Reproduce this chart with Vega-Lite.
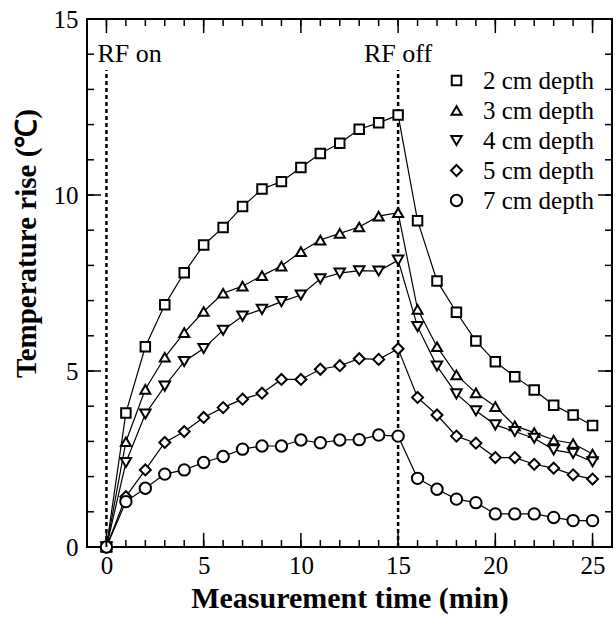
{
  "$schema": "https://vega.github.io/schema/vega-lite/v6.json",
  "width": 525,
  "height": 528,
  "autosize": "none",
  "padding": {"left": 87, "top": 19, "right": 4, "bottom": 72},
  "background": "white",
  "config": {
    "font": "Liberation Serif",
    "view": {"stroke": "black", "strokeWidth": 2},
    "axis": {
      "domain": false,
      "ticks": false,
      "grid": false,
      "labelFont": "Liberation Serif",
      "labelFontSize": 25,
      "labelColor": "black",
      "titleFont": "Liberation Serif",
      "titleColor": "black",
      "titleFontWeight": "bold",
      "titleFontSize": 29
    }
  },
  "datasets": {
    "temps": [
      {"t": 0, "depth": "2 cm depth", "temp": 0}, {"t": 1, "depth": "2 cm depth", "temp": 3.81}, {"t": 2, "depth": "2 cm depth", "temp": 5.69}, {"t": 3, "depth": "2 cm depth", "temp": 6.88}, {"t": 4, "depth": "2 cm depth", "temp": 7.79}, {"t": 5, "depth": "2 cm depth", "temp": 8.58}, {"t": 6, "depth": "2 cm depth", "temp": 9.08}, {"t": 7, "depth": "2 cm depth", "temp": 9.67}, {"t": 8, "depth": "2 cm depth", "temp": 10.17}, {"t": 9, "depth": "2 cm depth", "temp": 10.38}, {"t": 10, "depth": "2 cm depth", "temp": 10.78}, {"t": 11, "depth": "2 cm depth", "temp": 11.18}, {"t": 12, "depth": "2 cm depth", "temp": 11.47}, {"t": 13, "depth": "2 cm depth", "temp": 11.87}, {"t": 14, "depth": "2 cm depth", "temp": 12.05}, {"t": 15, "depth": "2 cm depth", "temp": 12.27}, {"t": 16, "depth": "2 cm depth", "temp": 9.27}, {"t": 17, "depth": "2 cm depth", "temp": 7.56}, {"t": 18, "depth": "2 cm depth", "temp": 6.67}, {"t": 19, "depth": "2 cm depth", "temp": 5.85}, {"t": 20, "depth": "2 cm depth", "temp": 5.26}, {"t": 21, "depth": "2 cm depth", "temp": 4.84}, {"t": 22, "depth": "2 cm depth", "temp": 4.46}, {"t": 23, "depth": "2 cm depth", "temp": 4.03}, {"t": 24, "depth": "2 cm depth", "temp": 3.75}, {"t": 25, "depth": "2 cm depth", "temp": 3.45},
      {"t": 0, "depth": "3 cm depth", "temp": 0}, {"t": 1, "depth": "3 cm depth", "temp": 2.99}, {"t": 2, "depth": "3 cm depth", "temp": 4.48}, {"t": 3, "depth": "3 cm depth", "temp": 5.39}, {"t": 4, "depth": "3 cm depth", "temp": 6.09}, {"t": 5, "depth": "3 cm depth", "temp": 6.69}, {"t": 6, "depth": "3 cm depth", "temp": 7.21}, {"t": 7, "depth": "3 cm depth", "temp": 7.41}, {"t": 8, "depth": "3 cm depth", "temp": 7.71}, {"t": 9, "depth": "3 cm depth", "temp": 7.98}, {"t": 10, "depth": "3 cm depth", "temp": 8.39}, {"t": 11, "depth": "3 cm depth", "temp": 8.72}, {"t": 12, "depth": "3 cm depth", "temp": 8.91}, {"t": 13, "depth": "3 cm depth", "temp": 9.09}, {"t": 14, "depth": "3 cm depth", "temp": 9.40}, {"t": 15, "depth": "3 cm depth", "temp": 9.50}, {"t": 16, "depth": "3 cm depth", "temp": 6.75}, {"t": 17, "depth": "3 cm depth", "temp": 5.69}, {"t": 18, "depth": "3 cm depth", "temp": 4.89}, {"t": 19, "depth": "3 cm depth", "temp": 4.38}, {"t": 20, "depth": "3 cm depth", "temp": 3.99}, {"t": 21, "depth": "3 cm depth", "temp": 3.44}, {"t": 22, "depth": "3 cm depth", "temp": 3.25}, {"t": 23, "depth": "3 cm depth", "temp": 3.04}, {"t": 24, "depth": "3 cm depth", "temp": 2.94}, {"t": 25, "depth": "3 cm depth", "temp": 2.64},
      {"t": 0, "depth": "4 cm depth", "temp": 0}, {"t": 1, "depth": "4 cm depth", "temp": 2.40}, {"t": 2, "depth": "4 cm depth", "temp": 3.78}, {"t": 3, "depth": "4 cm depth", "temp": 4.57}, {"t": 4, "depth": "4 cm depth", "temp": 5.27}, {"t": 5, "depth": "4 cm depth", "temp": 5.64}, {"t": 6, "depth": "4 cm depth", "temp": 6.16}, {"t": 7, "depth": "4 cm depth", "temp": 6.56}, {"t": 8, "depth": "4 cm depth", "temp": 6.75}, {"t": 9, "depth": "4 cm depth", "temp": 6.97}, {"t": 10, "depth": "4 cm depth", "temp": 7.16}, {"t": 11, "depth": "4 cm depth", "temp": 7.62}, {"t": 12, "depth": "4 cm depth", "temp": 7.78}, {"t": 13, "depth": "4 cm depth", "temp": 7.85}, {"t": 14, "depth": "4 cm depth", "temp": 7.84}, {"t": 15, "depth": "4 cm depth", "temp": 8.15}, {"t": 16, "depth": "4 cm depth", "temp": 6.26}, {"t": 17, "depth": "4 cm depth", "temp": 5.14}, {"t": 18, "depth": "4 cm depth", "temp": 4.35}, {"t": 19, "depth": "4 cm depth", "temp": 3.87}, {"t": 20, "depth": "4 cm depth", "temp": 3.47}, {"t": 21, "depth": "4 cm depth", "temp": 3.28}, {"t": 22, "depth": "4 cm depth", "temp": 3.09}, {"t": 23, "depth": "4 cm depth", "temp": 2.76}, {"t": 24, "depth": "4 cm depth", "temp": 2.66}, {"t": 25, "depth": "4 cm depth", "temp": 2.42},
      {"t": 0, "depth": "5 cm depth", "temp": 0}, {"t": 1, "depth": "5 cm depth", "temp": 1.43}, {"t": 2, "depth": "5 cm depth", "temp": 2.19}, {"t": 3, "depth": "5 cm depth", "temp": 2.97}, {"t": 4, "depth": "5 cm depth", "temp": 3.28}, {"t": 5, "depth": "5 cm depth", "temp": 3.68}, {"t": 6, "depth": "5 cm depth", "temp": 3.96}, {"t": 7, "depth": "5 cm depth", "temp": 4.20}, {"t": 8, "depth": "5 cm depth", "temp": 4.37}, {"t": 9, "depth": "5 cm depth", "temp": 4.76}, {"t": 10, "depth": "5 cm depth", "temp": 4.76}, {"t": 11, "depth": "5 cm depth", "temp": 5.05}, {"t": 12, "depth": "5 cm depth", "temp": 5.15}, {"t": 13, "depth": "5 cm depth", "temp": 5.35}, {"t": 14, "depth": "5 cm depth", "temp": 5.33}, {"t": 15, "depth": "5 cm depth", "temp": 5.63}, {"t": 16, "depth": "5 cm depth", "temp": 4.25}, {"t": 17, "depth": "5 cm depth", "temp": 3.75}, {"t": 18, "depth": "5 cm depth", "temp": 3.15}, {"t": 19, "depth": "5 cm depth", "temp": 2.95}, {"t": 20, "depth": "5 cm depth", "temp": 2.54}, {"t": 21, "depth": "5 cm depth", "temp": 2.54}, {"t": 22, "depth": "5 cm depth", "temp": 2.35}, {"t": 23, "depth": "5 cm depth", "temp": 2.24}, {"t": 24, "depth": "5 cm depth", "temp": 2.05}, {"t": 25, "depth": "5 cm depth", "temp": 1.93},
      {"t": 0, "depth": "7 cm depth", "temp": 0}, {"t": 1, "depth": "7 cm depth", "temp": 1.29}, {"t": 2, "depth": "7 cm depth", "temp": 1.67}, {"t": 3, "depth": "7 cm depth", "temp": 2.07}, {"t": 4, "depth": "7 cm depth", "temp": 2.19}, {"t": 5, "depth": "7 cm depth", "temp": 2.40}, {"t": 6, "depth": "7 cm depth", "temp": 2.57}, {"t": 7, "depth": "7 cm depth", "temp": 2.78}, {"t": 8, "depth": "7 cm depth", "temp": 2.87}, {"t": 9, "depth": "7 cm depth", "temp": 2.87}, {"t": 10, "depth": "7 cm depth", "temp": 3.04}, {"t": 11, "depth": "7 cm depth", "temp": 2.96}, {"t": 12, "depth": "7 cm depth", "temp": 3.04}, {"t": 13, "depth": "7 cm depth", "temp": 3.05}, {"t": 14, "depth": "7 cm depth", "temp": 3.18}, {"t": 15, "depth": "7 cm depth", "temp": 3.15}, {"t": 16, "depth": "7 cm depth", "temp": 1.95}, {"t": 17, "depth": "7 cm depth", "temp": 1.64}, {"t": 18, "depth": "7 cm depth", "temp": 1.36}, {"t": 19, "depth": "7 cm depth", "temp": 1.26}, {"t": 20, "depth": "7 cm depth", "temp": 0.94}, {"t": 21, "depth": "7 cm depth", "temp": 0.94}, {"t": 22, "depth": "7 cm depth", "temp": 0.94}, {"t": 23, "depth": "7 cm depth", "temp": 0.84}, {"t": 24, "depth": "7 cm depth", "temp": 0.75}, {"t": 25, "depth": "7 cm depth", "temp": 0.75}
    ],
    "events": [
      {"t": 0, "event": "RF on"},
      {"t": 15, "event": "RF off"}
    ]
  },
  "layer": [
    {
      "data": {"name": "events"},
      "mark": {"type": "rule", "color": "black", "strokeWidth": 2.5, "strokeDash": [4, 3]},
      "encoding": {
        "x": {"field": "t", "type": "quantitative", "scale": {"domain": [-1, 26], "nice": false, "zero": false},
          "axis": {"orient": "bottom", "values": [0,1,2,3,4,5,6,7,8,9,10,11,12,13,14,15,16,17,18,19,20,21,22,23,24,25], "labelExpr": "datum.value % 5 === 0 ? datum.label : ''", "labelOverlap": false, "labelFlush": false, "labelPadding": 6, "title": "Measurement time (min)", "titleFontSize": 30, "titlePadding": 5}},
        "y": {"datum": 0, "type": "quantitative", "scale": {"domain": [0, 15], "nice": false},
          "axis": {"orient": "left", "values": [0,1,2,3,4,5,6,7,8,9,10,11,12,13,14,15], "labelExpr": "datum.value % 5 === 0 ? datum.label : ''", "labelOverlap": false, "labelFlush": false, "labelPadding": 9, "title": "Temperature rise (℃)", "titlePadding": 12, "titleY": 224}},
        "y2": {"datum": 13.55}
      }
    },
    {
      "data": {"name": "temps"},
      "mark": {"type": "line", "color": "black", "strokeWidth": 1.2},
      "encoding": {
        "x": {"field": "t", "type": "quantitative", "scale": {"domain": [-1, 26], "nice": false, "zero": false},
          "axis": {"orient": "bottom", "values": [0,1,2,3,4,5,6,7,8,9,10,11,12,13,14,15,16,17,18,19,20,21,22,23,24,25], "labelExpr": "datum.value % 5 === 0 ? datum.label : ''", "labelOverlap": false, "labelFlush": false, "labelPadding": 6, "title": "Measurement time (min)", "titleFontSize": 30, "titlePadding": 5}},
        "y": {"field": "temp", "type": "quantitative", "scale": {"domain": [0, 15], "nice": false},
          "axis": {"orient": "left", "values": [0,1,2,3,4,5,6,7,8,9,10,11,12,13,14,15], "labelExpr": "datum.value % 5 === 0 ? datum.label : ''", "labelOverlap": false, "labelFlush": false, "labelPadding": 9, "title": "Temperature rise (℃)", "titlePadding": 12, "titleY": 224}},
        "detail": {"field": "depth", "type": "nominal"}
      }
    },
    {
      "data": {"name": "temps"},
      "mark": {"type": "point", "filled": false, "fill": "white", "stroke": "black", "strokeWidth": 2, "opacity": 1},
      "encoding": {
        "x": {"field": "t", "type": "quantitative", "scale": {"domain": [-1, 26], "nice": false, "zero": false},
          "axis": {"orient": "bottom", "values": [0,1,2,3,4,5,6,7,8,9,10,11,12,13,14,15,16,17,18,19,20,21,22,23,24,25], "labelExpr": "datum.value % 5 === 0 ? datum.label : ''", "labelOverlap": false, "labelFlush": false, "labelPadding": 6, "title": "Measurement time (min)", "titleFontSize": 30, "titlePadding": 5}},
        "y": {"field": "temp", "type": "quantitative", "scale": {"domain": [0, 15], "nice": false},
          "axis": {"orient": "left", "values": [0,1,2,3,4,5,6,7,8,9,10,11,12,13,14,15], "labelExpr": "datum.value % 5 === 0 ? datum.label : ''", "labelOverlap": false, "labelFlush": false, "labelPadding": 9, "title": "Temperature rise (℃)", "titlePadding": 12, "titleY": 224}},
        "shape": {
          "field": "depth", "type": "nominal",
          "scale": {"domain": ["2 cm depth", "3 cm depth", "4 cm depth", "5 cm depth", "7 cm depth"], "range": ["square", "triangle-up", "triangle-down", "diamond", "circle"]},
          "legend": {
            "orient": "none",
            "legendX": 357,
            "legendY": 49,
            "title": null,
            "padding": 0,
            "labelFont": "Liberation Serif",
            "labelFontSize": 25,
            "labelColor": "black",
            "labelOffset": 14,
            "rowPadding": 4,
            "symbolFillColor": "white",
            "symbolStrokeColor": "black",
            "symbolStrokeWidth": 2
          }
        },
        "size": {
          "field": "depth", "type": "nominal",
          "scale": {"domain": ["2 cm depth", "3 cm depth", "4 cm depth", "5 cm depth", "7 cm depth"], "range": [90, 130, 130, 120, 150]}
        }
      }
    },
    {
      "data": {"name": "events"},
      "transform": [{"filter": "datum.t === 0"}],
      "mark": {"type": "text", "align": "left", "dx": -9, "baseline": "alphabetic", "fontSize": 26, "color": "black", "font": "Liberation Serif"},
      "encoding": {
        "x": {"field": "t", "type": "quantitative", "scale": {"domain": [-1, 26], "nice": false, "zero": false},
          "axis": {"orient": "bottom", "values": [0,1,2,3,4,5,6,7,8,9,10,11,12,13,14,15,16,17,18,19,20,21,22,23,24,25], "labelExpr": "datum.value % 5 === 0 ? datum.label : ''", "labelOverlap": false, "labelFlush": false, "labelPadding": 6, "title": "Measurement time (min)", "titleFontSize": 30, "titlePadding": 5}},
        "y": {"datum": 13.78, "type": "quantitative", "scale": {"domain": [0, 15], "nice": false},
          "axis": {"orient": "left", "values": [0,1,2,3,4,5,6,7,8,9,10,11,12,13,14,15], "labelExpr": "datum.value % 5 === 0 ? datum.label : ''", "labelOverlap": false, "labelFlush": false, "labelPadding": 9, "title": "Temperature rise (℃)", "titlePadding": 12, "titleY": 224}},
        "text": {"field": "event"}
      }
    },
    {
      "data": {"name": "events"},
      "transform": [{"filter": "datum.t === 15"}],
      "mark": {"type": "text", "align": "center", "baseline": "alphabetic", "fontSize": 26, "color": "black", "font": "Liberation Serif"},
      "encoding": {
        "x": {"field": "t", "type": "quantitative", "scale": {"domain": [-1, 26], "nice": false, "zero": false},
          "axis": {"orient": "bottom", "values": [0,1,2,3,4,5,6,7,8,9,10,11,12,13,14,15,16,17,18,19,20,21,22,23,24,25], "labelExpr": "datum.value % 5 === 0 ? datum.label : ''", "labelOverlap": false, "labelFlush": false, "labelPadding": 6, "title": "Measurement time (min)", "titleFontSize": 30, "titlePadding": 5}},
        "y": {"datum": 13.78, "type": "quantitative", "scale": {"domain": [0, 15], "nice": false},
          "axis": {"orient": "left", "values": [0,1,2,3,4,5,6,7,8,9,10,11,12,13,14,15], "labelExpr": "datum.value % 5 === 0 ? datum.label : ''", "labelOverlap": false, "labelFlush": false, "labelPadding": 9, "title": "Temperature rise (℃)", "titlePadding": 12, "titleY": 224}},
        "text": {"field": "event"}
      }
    },
    {
      "data": {"name": "temps"},
      "transform": [{"filter": "datum.depth === '2 cm depth'"}],
      "mark": {"type": "rule", "color": "black", "strokeWidth": 1.5},
      "encoding": {
        "x": {"field": "t", "type": "quantitative", "scale": {"domain": [-1, 26], "nice": false, "zero": false},
          "axis": {"orient": "bottom", "values": [0,1,2,3,4,5,6,7,8,9,10,11,12,13,14,15,16,17,18,19,20,21,22,23,24,25], "labelExpr": "datum.value % 5 === 0 ? datum.label : ''", "labelOverlap": false, "labelFlush": false, "labelPadding": 6, "title": "Measurement time (min)", "titleFontSize": 30, "titlePadding": 5}},
        "y": {"datum": 0, "type": "quantitative", "scale": {"domain": [0, 15], "nice": false},
          "axis": {"orient": "left", "values": [0,1,2,3,4,5,6,7,8,9,10,11,12,13,14,15], "labelExpr": "datum.value % 5 === 0 ? datum.label : ''", "labelOverlap": false, "labelFlush": false, "labelPadding": 9, "title": "Temperature rise (℃)", "titlePadding": 12, "titleY": 224}},
        "y2": {"datum": 0.2}
      }
    },
    {
      "data": {"name": "temps"},
      "transform": [{"filter": "datum.depth === '2 cm depth' && datum.t % 5 === 0"}],
      "mark": {"type": "rule", "color": "black", "strokeWidth": 1.5},
      "encoding": {
        "x": {"field": "t", "type": "quantitative", "scale": {"domain": [-1, 26], "nice": false, "zero": false},
          "axis": {"orient": "bottom", "values": [0,1,2,3,4,5,6,7,8,9,10,11,12,13,14,15,16,17,18,19,20,21,22,23,24,25], "labelExpr": "datum.value % 5 === 0 ? datum.label : ''", "labelOverlap": false, "labelFlush": false, "labelPadding": 6, "title": "Measurement time (min)", "titleFontSize": 30, "titlePadding": 5}},
        "y": {"datum": 0, "type": "quantitative", "scale": {"domain": [0, 15], "nice": false},
          "axis": {"orient": "left", "values": [0,1,2,3,4,5,6,7,8,9,10,11,12,13,14,15], "labelExpr": "datum.value % 5 === 0 ? datum.label : ''", "labelOverlap": false, "labelFlush": false, "labelPadding": 9, "title": "Temperature rise (℃)", "titlePadding": 12, "titleY": 224}},
        "y2": {"datum": 0.4}
      }
    },
    {
      "data": {"name": "temps"},
      "transform": [{"filter": "datum.depth === '2 cm depth'"}],
      "mark": {"type": "rule", "color": "black", "strokeWidth": 1.5},
      "encoding": {
        "x": {"field": "t", "type": "quantitative", "scale": {"domain": [-1, 26], "nice": false, "zero": false},
          "axis": {"orient": "bottom", "values": [0,1,2,3,4,5,6,7,8,9,10,11,12,13,14,15,16,17,18,19,20,21,22,23,24,25], "labelExpr": "datum.value % 5 === 0 ? datum.label : ''", "labelOverlap": false, "labelFlush": false, "labelPadding": 6, "title": "Measurement time (min)", "titleFontSize": 30, "titlePadding": 5}},
        "y": {"datum": 15, "type": "quantitative", "scale": {"domain": [0, 15], "nice": false},
          "axis": {"orient": "left", "values": [0,1,2,3,4,5,6,7,8,9,10,11,12,13,14,15], "labelExpr": "datum.value % 5 === 0 ? datum.label : ''", "labelOverlap": false, "labelFlush": false, "labelPadding": 9, "title": "Temperature rise (℃)", "titlePadding": 12, "titleY": 224}},
        "y2": {"datum": 14.8}
      }
    },
    {
      "data": {"name": "temps"},
      "transform": [{"filter": "datum.depth === '2 cm depth' && datum.t % 5 === 0"}],
      "mark": {"type": "rule", "color": "black", "strokeWidth": 1.5},
      "encoding": {
        "x": {"field": "t", "type": "quantitative", "scale": {"domain": [-1, 26], "nice": false, "zero": false},
          "axis": {"orient": "bottom", "values": [0,1,2,3,4,5,6,7,8,9,10,11,12,13,14,15,16,17,18,19,20,21,22,23,24,25], "labelExpr": "datum.value % 5 === 0 ? datum.label : ''", "labelOverlap": false, "labelFlush": false, "labelPadding": 6, "title": "Measurement time (min)", "titleFontSize": 30, "titlePadding": 5}},
        "y": {"datum": 15, "type": "quantitative", "scale": {"domain": [0, 15], "nice": false},
          "axis": {"orient": "left", "values": [0,1,2,3,4,5,6,7,8,9,10,11,12,13,14,15], "labelExpr": "datum.value % 5 === 0 ? datum.label : ''", "labelOverlap": false, "labelFlush": false, "labelPadding": 9, "title": "Temperature rise (℃)", "titlePadding": 12, "titleY": 224}},
        "y2": {"datum": 14.6}
      }
    },
    {
      "data": {"name": "temps"},
      "transform": [{"filter": "datum.depth === '2 cm depth' && datum.t <= 15"}],
      "mark": {"type": "rule", "color": "black", "strokeWidth": 1.5},
      "encoding": {
        "x": {"datum": -1, "type": "quantitative", "scale": {"domain": [-1, 26], "nice": false, "zero": false},
          "axis": {"orient": "bottom", "values": [0,1,2,3,4,5,6,7,8,9,10,11,12,13,14,15,16,17,18,19,20,21,22,23,24,25], "labelExpr": "datum.value % 5 === 0 ? datum.label : ''", "labelOverlap": false, "labelFlush": false, "labelPadding": 6, "title": "Measurement time (min)", "titleFontSize": 30, "titlePadding": 5}},
        "x2": {"datum": -0.64},
        "y": {"field": "t", "type": "quantitative", "scale": {"domain": [0, 15], "nice": false},
          "axis": {"orient": "left", "values": [0,1,2,3,4,5,6,7,8,9,10,11,12,13,14,15], "labelExpr": "datum.value % 5 === 0 ? datum.label : ''", "labelOverlap": false, "labelFlush": false, "labelPadding": 9, "title": "Temperature rise (℃)", "titlePadding": 12, "titleY": 224}}
      }
    },
    {
      "data": {"name": "temps"},
      "transform": [{"filter": "datum.depth === '2 cm depth' && datum.t <= 15 && datum.t % 5 === 0"}],
      "mark": {"type": "rule", "color": "black", "strokeWidth": 1.5},
      "encoding": {
        "x": {"datum": -1, "type": "quantitative", "scale": {"domain": [-1, 26], "nice": false, "zero": false},
          "axis": {"orient": "bottom", "values": [0,1,2,3,4,5,6,7,8,9,10,11,12,13,14,15,16,17,18,19,20,21,22,23,24,25], "labelExpr": "datum.value % 5 === 0 ? datum.label : ''", "labelOverlap": false, "labelFlush": false, "labelPadding": 6, "title": "Measurement time (min)", "titleFontSize": 30, "titlePadding": 5}},
        "x2": {"datum": -0.28},
        "y": {"field": "t", "type": "quantitative", "scale": {"domain": [0, 15], "nice": false},
          "axis": {"orient": "left", "values": [0,1,2,3,4,5,6,7,8,9,10,11,12,13,14,15], "labelExpr": "datum.value % 5 === 0 ? datum.label : ''", "labelOverlap": false, "labelFlush": false, "labelPadding": 9, "title": "Temperature rise (℃)", "titlePadding": 12, "titleY": 224}}
      }
    },
    {
      "data": {"name": "temps"},
      "transform": [{"filter": "datum.depth === '2 cm depth' && datum.t <= 15"}],
      "mark": {"type": "rule", "color": "black", "strokeWidth": 1.5},
      "encoding": {
        "x": {"datum": 26, "type": "quantitative", "scale": {"domain": [-1, 26], "nice": false, "zero": false},
          "axis": {"orient": "bottom", "values": [0,1,2,3,4,5,6,7,8,9,10,11,12,13,14,15,16,17,18,19,20,21,22,23,24,25], "labelExpr": "datum.value % 5 === 0 ? datum.label : ''", "labelOverlap": false, "labelFlush": false, "labelPadding": 6, "title": "Measurement time (min)", "titleFontSize": 30, "titlePadding": 5}},
        "x2": {"datum": 25.64},
        "y": {"field": "t", "type": "quantitative", "scale": {"domain": [0, 15], "nice": false},
          "axis": {"orient": "left", "values": [0,1,2,3,4,5,6,7,8,9,10,11,12,13,14,15], "labelExpr": "datum.value % 5 === 0 ? datum.label : ''", "labelOverlap": false, "labelFlush": false, "labelPadding": 9, "title": "Temperature rise (℃)", "titlePadding": 12, "titleY": 224}}
      }
    },
    {
      "data": {"name": "temps"},
      "transform": [{"filter": "datum.depth === '2 cm depth' && datum.t <= 15 && datum.t % 5 === 0"}],
      "mark": {"type": "rule", "color": "black", "strokeWidth": 1.5},
      "encoding": {
        "x": {"datum": 26, "type": "quantitative", "scale": {"domain": [-1, 26], "nice": false, "zero": false},
          "axis": {"orient": "bottom", "values": [0,1,2,3,4,5,6,7,8,9,10,11,12,13,14,15,16,17,18,19,20,21,22,23,24,25], "labelExpr": "datum.value % 5 === 0 ? datum.label : ''", "labelOverlap": false, "labelFlush": false, "labelPadding": 6, "title": "Measurement time (min)", "titleFontSize": 30, "titlePadding": 5}},
        "x2": {"datum": 25.28},
        "y": {"field": "t", "type": "quantitative", "scale": {"domain": [0, 15], "nice": false},
          "axis": {"orient": "left", "values": [0,1,2,3,4,5,6,7,8,9,10,11,12,13,14,15], "labelExpr": "datum.value % 5 === 0 ? datum.label : ''", "labelOverlap": false, "labelFlush": false, "labelPadding": 9, "title": "Temperature rise (℃)", "titlePadding": 12, "titleY": 224}}
      }
    }
  ]
}
